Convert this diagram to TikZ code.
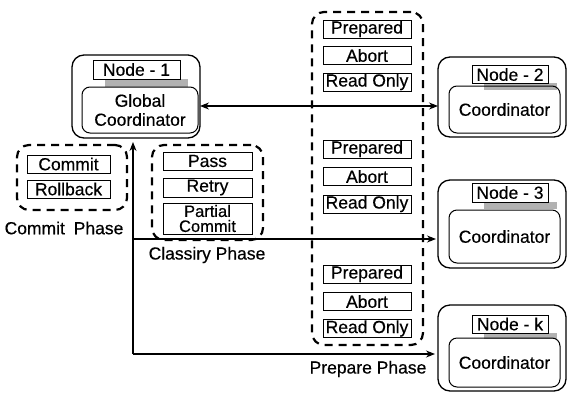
\documentclass[tikz,border=0pt]{standalone}
\usepackage{fontspec}
\setmainfont{Liberation Sans}[FakeBold=0.4]
\usetikzlibrary{arrows.meta}
\newcommand\dfont{\fontsize{17.5}{19}\selectfont}
\begin{document}
\begin{tikzpicture}[x=1pt,y=-1pt,
  every node/.style={inner sep=0pt, outer sep=0pt, font=\dfont},
  itembox/.style={draw, line width=1pt, minimum width=88pt, minimum height=18pt, fill=white},
  outerbox/.style={draw, line width=1.3pt, rounded corners=12pt},
  innerbox/.style={draw, line width=1pt, rounded corners=8pt, align=center},
  titlebox/.style={draw, line width=1pt, fill=white},
  groupbox/.style={draw, line width=2.2pt, dash pattern=on 8pt off 6pt, rounded corners=12pt},
  arr/.style={line width=1.1pt, -{Stealth[length=9pt,width=7pt]}},
  darr/.style={line width=1.1pt, {Stealth[length=9pt,width=7pt]}-{Stealth[length=9pt,width=7pt]}},
  shadowfill/.style={fill=gray!60}
]
\useasboundingbox (0,0) rectangle (570,394);

% Node - 1
\node[outerbox, minimum width=128pt, minimum height=83pt] (n1o) at (136,96.5) {};
\fill[shadowfill] (105,79) rectangle (188,87);
\node[titlebox, minimum width=87pt, minimum height=19pt] (n1t) at (136.5,69.5) {Node - 1};
\node[innerbox, minimum width=116pt, minimum height=46pt] (n1i) at (140,110) {Global\\Coordinator};

% Node - 2
\node[outerbox, minimum width=128pt, minimum height=80pt] (n2o) at (502,97) {};
\fill[shadowfill] (484,83) rectangle (557,90);
\node[titlebox, minimum width=76pt, minimum height=18pt] (n2t) at (510,74.5) {Node - 2};
\node[innerbox, minimum width=111pt, minimum height=47pt] (n2i) at (504.5,109.5) {Coordinator};

% Node - 3
\node[outerbox, minimum width=128pt, minimum height=88pt] (n3o) at (502,224) {};
\fill[shadowfill] (484,202) rectangle (557,209);
\node[titlebox, minimum width=76pt, minimum height=19pt] (n3t) at (510,192.5) {Node - 3};
\node[innerbox, minimum width=111pt, minimum height=53pt] (n3i) at (504.5,236.5) {Coordinator};

% Node - k
\node[outerbox, minimum width=128pt, minimum height=86pt] (nko) at (502,348) {};
\fill[shadowfill] (484,333) rectangle (557,339);
\node[titlebox, minimum width=76pt, minimum height=18pt] (nkt) at (510,324) {Node - k};
\node[innerbox, minimum width=111pt, minimum height=49pt] (nki) at (504.5,362.5) {Coordinator};

% Middle vote group
\node[groupbox, minimum width=111pt, minimum height=333pt] (mg) at (367.5,178.5) {};
\node[itembox] (p1) at (367,29) {Prepared};
\node[itembox] (a1) at (367,55.5) {Abort};
\node[itembox] (r1) at (367,82) {Read Only};
\node[itembox] (p2) at (367,149) {Prepared};
\node[itembox] (a2) at (367,176.5) {Abort};
\node[itembox] (r2) at (367,204) {Read Only};
\node[itembox] (p3) at (367,274) {Prepared};
\node[itembox] (a3) at (367,301.5) {Abort};
\node[itembox] (r3) at (367,328.5) {Read Only};

% Commit group
\node[groupbox, minimum width=110pt, minimum height=65pt] (cg) at (72,177.5) {};
\node[itembox, minimum width=83pt] (cm) at (68.5,164) {Commit};
\node[itembox, minimum width=83pt] (rb) at (68.5,189) {Rollback};
\node (cpl) at (64,228) {Commit\hspace{4pt} Phase};

% Classify group
\node[groupbox, minimum width=111pt, minimum height=95pt] (clg) at (207.5,192.5) {};
\node[itembox, minimum width=89pt] (ps) at (207.5,161) {Pass};
\node[itembox, minimum width=89pt, minimum height=19pt] (rt) at (207.5,187.5) {Retry};
\node[itembox, minimum width=89pt, minimum height=31pt, align=center, font=\fontsize{16.5}{15}\selectfont] (pc) at (207.5,218.5) {Partial\\Commit};
\node (clpl) at (207,255) {Classiry Phase};

\node (ppl) at (368,369) {Prepare Phase};

% Connectors
\draw[darr] (n1o.east |- 0,106) -- (n2o.west |- 0,106);
\coordinate (vb) at (133,354);
\coordinate (br) at (133,239);
\draw[arr, shorten >=4pt] (vb) -- (vb |- n1o.south);
\draw[arr, shorten >=2pt] (br) -- (br -| n3o.west);
\draw[arr, shorten >=3pt] (vb) -- (vb -| nko.west);
\end{tikzpicture}
\end{document}
